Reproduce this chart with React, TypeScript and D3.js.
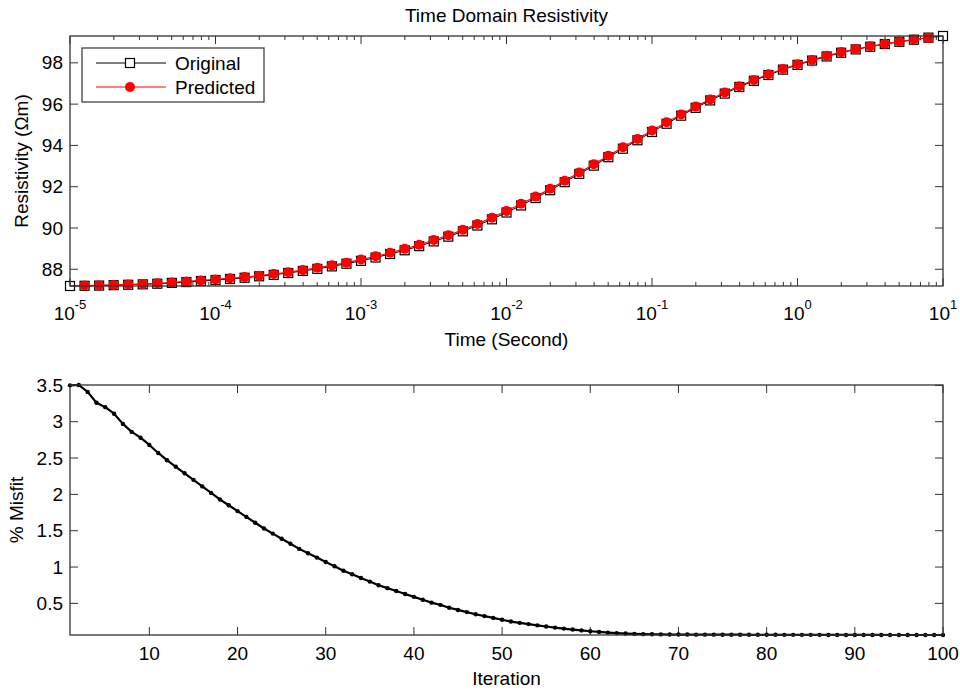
import React from 'react';
import * as d3 from 'd3';

// ---------- DATA ----------
const timeSeconds = [
  1.0e-5, 1.259e-5, 1.585e-5, 1.995e-5, 2.512e-5, 3.162e-5, 3.981e-5, 5.012e-5, 6.31e-5, 7.943e-5,
  1.0e-4, 1.259e-4, 1.585e-4, 1.995e-4, 2.512e-4, 3.162e-4, 3.981e-4, 5.012e-4, 6.31e-4, 7.943e-4,
  1.0e-3, 1.259e-3, 1.585e-3, 1.995e-3, 2.512e-3, 3.162e-3, 3.981e-3, 5.012e-3, 6.31e-3, 7.943e-3,
  1.0e-2, 1.259e-2, 1.585e-2, 1.995e-2, 2.512e-2, 3.162e-2, 3.981e-2, 5.012e-2, 6.31e-2, 7.943e-2,
  1.0e-1, 1.259e-1, 1.585e-1, 1.995e-1, 2.512e-1, 3.162e-1, 3.981e-1, 5.012e-1, 6.31e-1, 7.943e-1,
  1.0, 1.259, 1.585, 1.995, 2.512, 3.162, 3.981, 5.012, 6.31, 7.943,
  10.0,
];

const originalResistivity = [
  87.19, 87.2, 87.21, 87.23, 87.25, 87.27, 87.3, 87.34, 87.38, 87.43,
  87.48, 87.53, 87.59, 87.66, 87.73, 87.82, 87.92, 88.02, 88.14, 88.27,
  88.41, 88.57, 88.74, 88.92, 89.12, 89.35, 89.58, 89.84, 90.12, 90.42,
  90.75, 91.09, 91.45, 91.83, 92.22, 92.62, 93.02, 93.43, 93.84, 94.25,
  94.65, 95.05, 95.44, 95.82, 96.18, 96.51, 96.83, 97.13, 97.41, 97.67,
  97.9, 98.11, 98.31, 98.49, 98.65, 98.78, 98.91, 99.02, 99.12, 99.22,
  99.3,
];

// predicted values exist for times index 1..59
const predictedResistivity = [
  87.21, 87.22, 87.24, 87.26, 87.29, 87.32, 87.36, 87.41, 87.46,
  87.51, 87.56, 87.62, 87.69, 87.77, 87.86, 87.96, 88.07, 88.19, 88.32,
  88.47, 88.63, 88.8, 88.99, 89.19, 89.42, 89.65, 89.91, 90.19, 90.5,
  90.82, 91.17, 91.52, 91.9, 92.29, 92.69, 93.09, 93.5, 93.91, 94.31,
  94.72, 95.12, 95.5, 95.88, 96.23, 96.56, 96.87, 97.17, 97.45, 97.7,
  97.93, 98.14, 98.34, 98.52, 98.67, 98.8, 98.92, 99.03, 99.13, 99.22,
];

const iterations = [
  1, 2, 3, 4, 5, 6, 7, 8, 9, 10, 11, 12, 13, 14, 15, 16, 17, 18, 19, 20,
  21, 22, 23, 24, 25, 26, 27, 28, 29, 30, 31, 32, 33, 34, 35, 36, 37, 38, 39, 40,
  41, 42, 43, 44, 45, 46, 47, 48, 49, 50, 51, 52, 53, 54, 55, 56, 57, 58, 59, 60,
  61, 62, 63, 64, 65, 66, 67, 68, 69, 70, 71, 72, 73, 74, 75, 76, 77, 78, 79, 80,
  81, 82, 83, 84, 85, 86, 87, 88, 89, 90, 91, 92, 93, 94, 95, 96, 97, 98, 99, 100,
];

const misfitPercent = [
  3.5, 3.505, 3.41, 3.26, 3.2, 3.11, 2.97, 2.86, 2.78, 2.68,
  2.57, 2.47, 2.38, 2.29, 2.2, 2.11, 2.02, 1.93, 1.85, 1.77,
  1.69, 1.61, 1.53, 1.46, 1.39, 1.32, 1.25, 1.19, 1.13, 1.07,
  1.01, 0.95, 0.9, 0.85, 0.8, 0.75, 0.71, 0.67, 0.63, 0.59,
  0.55, 0.51, 0.48, 0.44, 0.41, 0.38, 0.35, 0.325, 0.3, 0.275,
  0.25, 0.232, 0.215, 0.198, 0.182, 0.167, 0.153, 0.14, 0.128, 0.117,
  0.107, 0.098, 0.091, 0.085, 0.08, 0.077, 0.075, 0.073, 0.072, 0.071,
  0.071, 0.07, 0.07, 0.07, 0.069, 0.069, 0.069, 0.068, 0.068, 0.068,
  0.068, 0.067, 0.067, 0.067, 0.067, 0.067, 0.066, 0.066, 0.066, 0.066,
  0.066, 0.066, 0.066, 0.065, 0.065, 0.065, 0.065, 0.065, 0.065, 0.065,
];

const resistivityTicks = [88, 90, 92, 94, 96, 98];
const timeTickExponents = [-5, -4, -3, -2, -1, 0, 1];
const misfitTicks = [0.5, 1, 1.5, 2, 2.5, 3, 3.5];
const iterationTicks = [10, 20, 30, 40, 50, 60, 70, 80, 90, 100];

const titleText = 'Time Domain Resistivity';
const topXLabel = 'Time (Second)';
const topYLabel = 'Resistivity (Ωm)';
const botXLabel = 'Iteration';
const botYLabel = '% Misfit';
const legendLabels = ['Original', 'Predicted'];

// ---------- LAYOUT ----------
const W = 960;
const H = 691;
const FONT = '"Liberation Sans", Arial, Helvetica, sans-serif';
const AX = '#333333';
const FS = 19;

const topBox = { left: 70, right: 943, top: 36, bottom: 286 };
const botBox = { left: 70, right: 943, top: 385, bottom: 635 };

export default function App() {
  const xT = d3.scaleLog().domain([timeSeconds[0], timeSeconds[timeSeconds.length - 1]]).range([topBox.left, topBox.right]);
  const yT = d3
    .scaleLinear()
    .domain([d3.min(originalResistivity) as number, d3.max(originalResistivity) as number])
    .range([topBox.bottom, topBox.top]);

  const xB = d3.scaleLinear().domain([iterations[0], iterations[iterations.length - 1]]).range([botBox.left, botBox.right]);
  const yB = d3
    .scaleLinear()
    .domain([d3.min(misfitPercent) as number, d3.max(misfitPercent) as number])
    .range([botBox.bottom, botBox.top]);

  const origPts: [number, number][] = timeSeconds.map((t, i) => [xT(t), yT(originalResistivity[i])]);
  const predPts: [number, number][] = predictedResistivity.map((v, i) => [xT(timeSeconds[i + 1]), yT(v)]);
  const misPts: [number, number][] = misfitPercent.map((v, i) => [xB(iterations[i]), yB(v)]);

  const line = d3.line();

  const logTicks = xT.ticks();
  const isMajor = (t: number) => Math.abs(Math.log10(t) - Math.round(Math.log10(t))) < 1e-6;

  const sq = 9;
  const rr = 5;

  return (
    <div style={{ position: 'fixed', left: 0, top: 0, width: W, height: H, background: '#fff' }}>
      <svg width={W} height={H} style={{ display: 'block' }} fontFamily={FONT}>
        <rect x={0} y={0} width={W} height={H} fill="#fff" />

        {/* ===== TOP AXES ===== */}
        <text x={(topBox.left + topBox.right) / 2} y={22} textAnchor="middle" fontSize={FS} fill="#000">
          {titleText}
        </text>

        {logTicks.map((t, i) => {
          const x = xT(t);
          const len = isMajor(t) ? 8 : 4;
          return (
            <g key={'lt' + i} stroke={AX} strokeWidth={1}>
              <line x1={x} x2={x} y1={topBox.bottom} y2={topBox.bottom - len} />
              <line x1={x} x2={x} y1={topBox.top} y2={topBox.top + len} />
            </g>
          );
        })}
        {resistivityTicks.map((v) => (
          <g key={'rt' + v} stroke={AX} strokeWidth={1}>
            <line x1={topBox.left} x2={topBox.left + 8} y1={yT(v)} y2={yT(v)} />
            <line x1={topBox.right} x2={topBox.right - 8} y1={yT(v)} y2={yT(v)} />
          </g>
        ))}
        {resistivityTicks.map((v) => (
          <text key={'rl' + v} x={topBox.left - 7} y={yT(v)} dy="0.35em" textAnchor="end" fontSize={FS} fill="#000">
            {v}
          </text>
        ))}
        {timeTickExponents.map((e) => (
          <text key={'tl' + e} x={xT(Math.pow(10, e))} y={320} textAnchor="middle" fontSize={FS} fill="#000">
            <tspan>10</tspan>
            <tspan dy={-11} fontSize={13}>{e}</tspan>
          </text>
        ))}
        <text x={(topBox.left + topBox.right) / 2} y={346} textAnchor="middle" fontSize={FS} fill="#000">
          {topXLabel}
        </text>
        <text
          transform={`translate(28,${(topBox.top + topBox.bottom) / 2}) rotate(-90)`}
          textAnchor="middle"
          fontSize={FS}
          fill="#000"
        >
          {topYLabel}
        </text>

        {/* data: original */}
        <path d={line(origPts) || ''} fill="none" stroke="#000" strokeWidth={1} />
        {origPts.map(([x, y], i) => (
          <rect key={'os' + i} x={x - sq / 2} y={y - sq / 2} width={sq} height={sq} fill="none" stroke="#000" strokeWidth={1.2} />
        ))}
        {/* data: predicted */}
        <path d={line(predPts) || ''} fill="none" stroke="#ff0000" strokeWidth={1.2} />
        {predPts.map(([x, y], i) => (
          <circle key={'pc' + i} cx={x} cy={y} r={rr} fill="#ff0000" />
        ))}

        <rect
          x={topBox.left}
          y={topBox.top}
          width={topBox.right - topBox.left}
          height={topBox.bottom - topBox.top}
          fill="none"
          stroke={AX}
          strokeWidth={1.3}
        />

        {/* legend */}
        <g>
          <rect x={82} y={48} width={182} height={54} fill="#fff" stroke={AX} strokeWidth={1.2} />
          <line x1={96} x2={166} y1={63} y2={63} stroke="#000" strokeWidth={1} />
          <rect x={130 - sq / 2} y={63 - sq / 2} width={sq} height={sq} fill="#fff" stroke="#000" strokeWidth={1.2} />
          <text x={175} y={63} dy="0.35em" fontSize={FS} fill="#000">
            {legendLabels[0]}
          </text>
          <line x1={96} x2={166} y1={87} y2={87} stroke="#ff0000" strokeWidth={1.2} />
          <circle cx={130} cy={87} r={rr} fill="#ff0000" />
          <text x={175} y={87} dy="0.35em" fontSize={FS} fill="#000">
            {legendLabels[1]}
          </text>
        </g>

        {/* ===== BOTTOM AXES ===== */}
        {iterationTicks.map((v) => (
          <g key={'it' + v} stroke={AX} strokeWidth={1}>
            <line x1={xB(v)} x2={xB(v)} y1={botBox.bottom} y2={botBox.bottom - 8} />
            <line x1={xB(v)} x2={xB(v)} y1={botBox.top} y2={botBox.top + 8} />
          </g>
        ))}
        {misfitTicks.map((v) => (
          <g key={'mt' + v} stroke={AX} strokeWidth={1}>
            <line x1={botBox.left} x2={botBox.left + 8} y1={yB(v)} y2={yB(v)} />
            <line x1={botBox.right} x2={botBox.right - 8} y1={yB(v)} y2={yB(v)} />
          </g>
        ))}
        {iterationTicks.map((v) => (
          <text key={'il' + v} x={xB(v)} y={660} textAnchor="middle" fontSize={FS} fill="#000">
            {v}
          </text>
        ))}
        {misfitTicks.map((v) => (
          <text key={'ml' + v} x={botBox.left - 7} y={yB(v)} dy="0.35em" textAnchor="end" fontSize={FS} fill="#000">
            {v}
          </text>
        ))}
        <text x={(botBox.left + botBox.right) / 2} y={685} textAnchor="middle" fontSize={FS} fill="#000">
          {botXLabel}
        </text>
        <text
          transform={`translate(23,${(botBox.top + botBox.bottom) / 2}) rotate(-90)`}
          textAnchor="middle"
          fontSize={FS}
          fill="#000"
        >
          {botYLabel}
        </text>

        <path d={line(misPts) || ''} fill="none" stroke="#000" strokeWidth={2.2} strokeLinejoin="round" />
        {misPts.map(([x, y], i) => (
          <circle key={'mp' + i} cx={x} cy={y} r={2.2} fill="#000" />
        ))}

        <rect
          x={botBox.left}
          y={botBox.top}
          width={botBox.right - botBox.left}
          height={botBox.bottom - botBox.top}
          fill="none"
          stroke={AX}
          strokeWidth={1.3}
        />
      </svg>
    </div>
  );
}
